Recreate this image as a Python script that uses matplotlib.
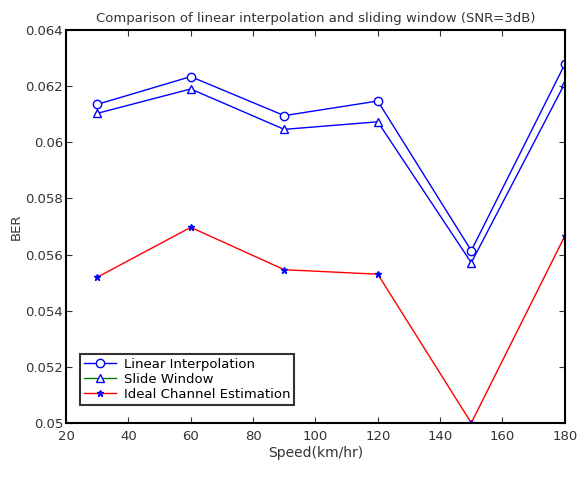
import matplotlib.pyplot as plt
from matplotlib.lines import Line2D

speed = [30, 60, 90, 120, 150, 180]
linear = [0.06135, 0.06234, 0.06095, 0.06147, 0.05614, 0.06278]
slide = [0.06103, 0.06190, 0.06046, 0.06073, 0.05571, 0.06210]
ideal = [0.05519, 0.05697, 0.05546, 0.05530, 0.05000, 0.05666]

fig = plt.figure(figsize=(5.8, 4.97), dpi=100)
ax = fig.add_axes([0.1138, 0.149, 0.86, 0.7906])

ax.plot(speed, linear, color='blue', marker='o', mfc='white', mec='blue', ms=6, lw=1)
ax.plot(speed, slide, color='blue', marker='^', mfc='white', mec='blue', ms=6, lw=1)
ax.plot(speed, ideal, color='red', marker='*', mfc='blue', mec='blue', ms=5, lw=1)

ax.set_xlim(20, 180)
ax.set_ylim(0.05, 0.064)
ax.set_xticks(range(20, 181, 20))
ax.set_yticks([0.05, 0.052, 0.054, 0.056, 0.058, 0.06, 0.062, 0.064])
ax.set_yticklabels(['0.05', '0.052', '0.054', '0.056', '0.058', '0.06', '0.062', '0.064'])
ax.tick_params(direction='in', top=True, right=True, labelsize=9.5, length=4, colors='#333333')
ax.tick_params(axis='x', pad=5)
ax.tick_params(axis='y', pad=2)
for s in ax.spines.values():
    s.set_linewidth(1.5)

ax.set_title('Comparison of linear interpolation and sliding window (SNR=3dB)', fontsize=9.5, color='#333333')
ax.set_xlabel('Speed(km/hr)', fontsize=10, color='#333333', labelpad=2)
ax.set_ylabel('BER', fontsize=9.5, color='#333333', labelpad=2)

handles = [
    Line2D([], [], color='blue', marker='o', mfc='white', mec='blue', ms=6, lw=1),
    Line2D([], [], color='green', marker='^', mfc='white', mec='blue', ms=6, lw=1),
    Line2D([], [], color='red', marker='*', mfc='blue', mec='blue', ms=5, lw=1),
]
leg = ax.legend(handles, ['Linear Interpolation', 'Slide Window', 'Ideal Channel Estimation'],
                loc='lower left', fontsize=9.5, fancybox=False, edgecolor='black',
                borderpad=0.3, labelspacing=0.15, handlelength=2.4, handletextpad=0.6,
                bbox_to_anchor=(0.015, 0.03))
leg.get_frame().set_linewidth(1.5)

fig.savefig('out.png')
